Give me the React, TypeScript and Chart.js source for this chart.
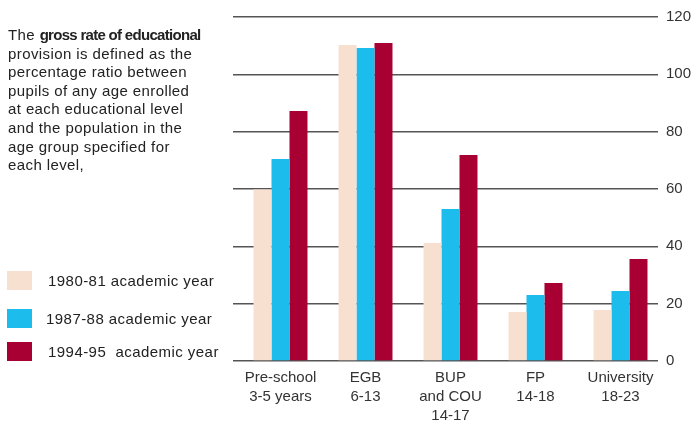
import React, { useEffect, useRef } from "react";
import { Chart, registerables } from "chart.js";

Chart.register(...registerables);

const categories: string[][] = [
  ["Pre-school", "3-5 years"],
  ["EGB", "6-13"],
  ["BUP", "and COU", "14-17"],
  ["FP", "14-18"],
  ["University", "18-23"],
];
const seriesNames = ["1980-81 academic year", "1987-88 academic year", "1994-95  academic year"];
const values1980 = [59.8, 110.2, 41.2, 17.1, 17.8];
const values1987 = [70.5, 109.2, 53.0, 23.0, 24.4];
const values1994 = [87.2, 110.9, 71.9, 27.2, 35.6];
const yTicks = [0, 20, 40, 60, 80, 100, 120];
const colors = ["#F8E0D0", "#1CBDEC", "#A80032"];

const FONT = "'Liberation Sans', Arial, sans-serif";

const shiftX = {
  id: "shiftX",
  afterLayout(chart: any) {
    const x = chart.scales.x;
    x.left += 5;
    x.right += 5;
    x.configure();
  },
};

export default function App() {
  const ref = useRef<HTMLCanvasElement | null>(null);
  useEffect(() => {
    if (!ref.current) return;
    const chart = new Chart(ref.current, {
      type: "bar",
      data: {
        labels: categories,
        datasets: [values1980, values1987, values1994].map((d, i) => ({
          label: seriesNames[i],
          data: d,
          backgroundColor: colors[i],
          borderWidth: 0,
          barPercentage: 1,
          categoryPercentage: 0.635,
        })),
      },
      plugins: [shiftX],
      options: {
        animation: false,
        responsive: false,
        maintainAspectRatio: false,
        layout: { padding: { left: 233, top: 17, right: 0, bottom: 0 } },
        plugins: { legend: { display: false }, tooltip: { enabled: false }, title: { display: false } },
        scales: {
          x: {
            grid: { display: false, drawTicks: false },
            border: { display: false },
            ticks: {
              color: "#333",
              font: { family: FONT, size: 15, lineHeight: 1.24 },
              padding: 8,
              maxRotation: 0,
              autoSkip: false,
            },
            afterFit: (s: any) => { s.height = 61; },
          },
          y: {
            position: "right",
            min: 0,
            max: 120,
            afterBuildTicks: (s: any) => { s.ticks = yTicks.map((v) => ({ value: v })); },
            grid: { color: "#555", lineWidth: 1.6, drawTicks: false },
            border: { display: false },
            ticks: { color: "#333", font: { family: FONT, size: 15 }, padding: 8 },
            afterFit: (s: any) => { s.width = 35; },
          },
        },
      },
    });
    return () => chart.destroy();
  }, []);

  const textStyle: React.CSSProperties = {
    position: "absolute",
    left: 8,
    top: 26,
    width: 230,
    fontFamily: FONT,
    fontSize: 15,
    letterSpacing: "0.4px",
    lineHeight: "18.6px",
    color: "#222",
    whiteSpace: "nowrap",
  };
  const legendTops = [271, 309, 342];
  const legendTextX = [48, 46, 48];

  return (
    <div style={{ position: "fixed", left: 0, top: 0, width: 693, height: 422, background: "#fff", overflow: "hidden" }}>
      <canvas ref={ref} width={693} height={422} style={{ position: "absolute", left: 0, top: 0 }} />
      <div style={textStyle}>
        The <b style={{ letterSpacing: "-0.7px", fontSize: 15 }}>gross rate of educational</b>
        <br />provision is defined as the
        <br />percentage ratio between
        <br />pupils of any age enrolled
        <br />at each educational level
        <br />and the population in the
        <br />age group specified for
        <br />each level,
      </div>
      {seriesNames.map((n, i) => (
        <React.Fragment key={n}>
          <div style={{ position: "absolute", left: 7, top: legendTops[i], width: 25, height: 19, background: colors[i] }} />
          <div
            style={{
              position: "absolute",
              left: legendTextX[i],
              top: legendTops[i] + 1,
              fontFamily: FONT,
              fontSize: 15,
              letterSpacing: "0.45px",
              color: "#222",
              whiteSpace: "pre",
              lineHeight: "18px",
            }}
          >
            {n}
          </div>
        </React.Fragment>
      ))}
    </div>
  );
}
